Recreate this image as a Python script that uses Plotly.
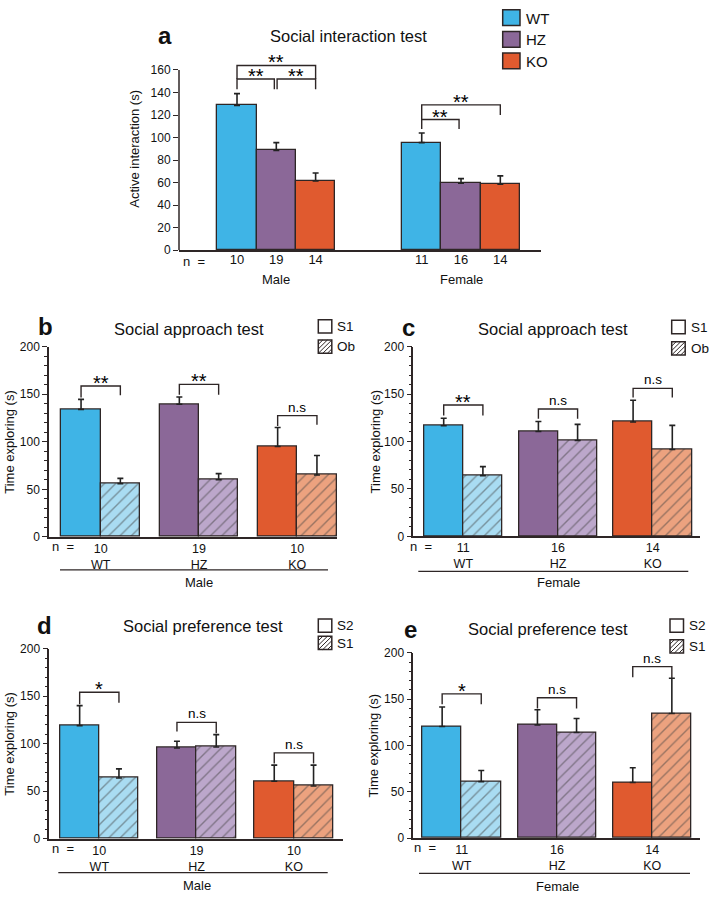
import plotly.graph_objects as go

W, H = 709, 898

# ---------------- data ----------------
genotypes = ["WT", "HZ", "KO"]

# (a) Social interaction test: active interaction (s), mean and SEM
a_male_mean = [128.5, 88.5, 61.5]
a_male_sem = [10.5, 7.0, 7.0]
a_female_mean = [95.5, 59.5, 58.5]
a_female_sem = [8.5, 4.0, 7.5]
a_male_n = [10, 19, 14]
a_female_n = [11, 16, 14]
a_yticks = [0, 20, 40, 60, 80, 100, 120, 140, 160]

# (b) Social approach test, male: S1 vs Ob
b_s1_mean = [134.0, 139.5, 95.0]
b_s1_sem = [10.5, 7.5, 20.0]
b_ob_mean = [56.0, 60.0, 65.0]
b_ob_sem = [5.5, 6.5, 20.5]
b_n = [10, 19, 10]

# (c) Social approach test, female: S1 vs Ob
c_s1_mean = [116.5, 110.5, 120.5]
c_s1_sem = [8.0, 10.5, 23.0]
c_ob_mean = [64.0, 101.0, 91.5]
c_ob_sem = [9.5, 17.0, 25.5]
c_n = [11, 16, 14]

# (d) Social preference test, male: S2 vs S1
d_s2_mean = [119.0, 95.5, 60.5]
d_s2_sem = [21.0, 7.0, 17.0]
d_s1_mean = [64.0, 96.5, 55.5]
d_s1_sem = [9.5, 13.0, 22.0]
d_n = [10, 19, 10]

# (e) Social preference test, female: S2 vs S1
e_s2_mean = [120.5, 122.0, 60.0]
e_s2_sem = [21.0, 16.5, 16.0]
e_s1_mean = [61.0, 114.0, 134.5]
e_s1_sem = [12.0, 15.0, 38.0]
e_n = [11, 16, 14]

# significance brackets: (label, sex index, left pos, right pos, top, left end, right end)
a_sig = [
    ("**", 0, 0.0, 2.0, 164.0, 152.0, 152.0),
    ("**", 0, 0.0, 0.95, 152.0, 143.0, 143.0),
    ("**", 0, 1.02, 2.0, 152.0, 143.0, 143.0),
    ("**", 1, 0.0, 2.0, 129.0, 116.0, 120.0),
    ("**", 1, 0.0, 0.95, 116.0, 107.5, 107.5),
]
# (label, genotype index, top, left end, right end)
b_sig = [("**", 0, 158.6, 146.5, 149.0), ("**", 1, 160.3, 149.3, 149.3), ("n.s", 2, 127.5, 116.5, 118.0)]
c_sig = [("**", 0, 138.5, 127.4, 127.4), ("n.s", 1, 134.3, 124.0, 124.0), ("n.s", 2, 156.0, 146.4, 146.4)]
d_sig = [("*", 0, 154.0, 141.4, 143.0), ("n.s", 1, 122.4, 112.7, 111.0), ("n.s", 2, 90.3, 79.3, 79.3)]
e_sig = [("*", 0, 155.7, 144.4, 144.4), ("n.s", 1, 151.4, 139.8, 139.8), ("n.s", 2, 185.0, 173.7, 172.7)]

# ---------------- style ----------------
SOLID = ["#3fb4e6", "#8b6898", "#e05a2f"]
LIGHT = ["#a9dcf2", "#bca7cb", "#eca27f"]
EDGE = "#2e2626"
TXT = "#111111"
SANS = "Liberation Sans, Arial, sans-serif"
STARF = "Liberation Sans, Arial, sans-serif"


def fx(p):
    return p / W


def fy(p):
    return 1 - p / H


fig = go.Figure()
annotations = []
shapes = []


def add_text(x, y, s, size, xref="paper", yref="paper", bold=False, xanchor="center",
             yanchor="middle", angle=0, family=SANS, yshift=0, color=TXT):
    annotations.append(dict(
        x=x, y=y, xref=xref, yref=yref, text=f"<b>{s}</b>" if bold else s,
        showarrow=False, xanchor=xanchor, yanchor=yanchor, textangle=angle,
        font=dict(size=size, family=family, color=color), yshift=yshift))


def err(vals, sem):
    return dict(type="data", array=sem, arrayminus=[0] * len(vals), symmetric=False,
                color="#222222", thickness=1.6, width=3)


def bracket(xa, ya, label, xl, xr, top, yl, yr):
    shapes.append(dict(type="path", xref=xa, yref=ya,
                       path=f"M {xl},{yl} L {xl},{top} L {xr},{top} L {xr},{yr}",
                       line=dict(color=EDGE, width=1.4)))
    star = "*" in label
    add_text((xl + xr) / 2, top, label, 20 if star else 13.5, xref=xa, yref=ya,
             yanchor="bottom", family=STARF, yshift=-10 if star else -1,
             color="#000000")


def legend_box(x0, y0, x1, y1, fill, hatch=False):
    shapes.append(dict(type="rect", xref="paper", yref="paper", x0=fx(x0), x1=fx(x1),
                       y0=fy(y1), y1=fy(y0), fillcolor=fill, line=dict(color=EDGE, width=1.5)))
    if hatch:
        w = x1 - x0
        h = y1 - y0
        segs = []
        for f in (0.33, 0.67, 1.0):
            segs.append(f"M {fx(x0)},{fy(y0 + h * f)} L {fx(x0 + w * f)},{fy(y0)}")
        for f in (0.33, 0.67):
            segs.append(f"M {fx(x0 + w * f)},{fy(y1)} L {fx(x1)},{fy(y0 + h * f)}")
        shapes.append(dict(type="path", xref="paper", yref="paper", path=" ".join(segs),
                           line=dict(color=EDGE, width=1)))


axis_common = dict(showgrid=False, zeroline=False, fixedrange=True, linecolor=EDGE,
                   tickcolor=EDGE, tickfont=dict(size=12, family=SANS, color=TXT))
layout_axes = {}

# ---------------- panel a ----------------
a_pos_male = [0.0, 1.0, 2.0]
a_pos_female = [4.7, 5.7, 6.7]
for i, g in enumerate(genotypes):
    fig.add_trace(go.Bar(
        x=[a_pos_male[i], a_pos_female[i]], y=[a_male_mean[i], a_female_mean[i]],
        width=1.0, name=g, xaxis="x", yaxis="y",
        marker=dict(color=SOLID[i], line=dict(color=EDGE, width=1.3)),
        error_y=err([0, 0], [a_male_sem[i], a_female_sem[i]]), showlegend=False))

layout_axes["xaxis"] = dict(axis_common, domain=[fx(179), fx(541)], range=[-1.476, 7.735],
                            anchor="y", showline=True, linewidth=1.5, ticks="",
                            tickvals=a_pos_male + a_pos_female, ticklabelstandoff=-3,
                            ticktext=[str(v) for v in a_male_n + a_female_n],
                            tickfont=dict(size=13, family=SANS, color=TXT))
layout_axes["yaxis"] = dict(axis_common, domain=[fy(247), fy(46.84)], range=[0, 175],
                            anchor="x", showline=False, ticks="outside", ticklen=5,
                            tickwidth=1.2, tickvals=a_yticks)
shapes.append(dict(type="line", xref="x domain", yref="y", x0=0, x1=0, y0=0,
                   y1=a_yticks[-1], line=dict(color=EDGE, width=1.5)))
for lab, sx, xl, xr, top, yl, yr in a_sig:
    off = (a_pos_male if sx == 0 else a_pos_female)[0]
    bracket("x", "y", lab, off + xl, off + xr, top, yl, yr)

add_text(fx(165), fy(29), "a", 24, bold=True)
add_text(fx(348), fy(29), "Social interaction test", 16.5)
add_text(fx(135), fy(144), "Active interaction (s)", 13, angle=-90)
add_text(fx(181), fy(259), "n  =", 13, xanchor="left")
add_text(a_pos_male[1], fy(277), "Male", 13, xref="x")
add_text(a_pos_female[1], fy(277), "Female", 13, xref="x")
for i, g in enumerate(genotypes):
    y0 = [2.7, 25.0, 46.7][i]
    legend_box(502.7, y0, 520, y0 + 16, SOLID[i])
    add_text(fx(523.5), fy(y0 + 8.5), g, 15, xanchor="left")

# ---------------- panels b-e ----------------
panels = [
    dict(key="b", ax=2, xl=49, xr=337, yb=538.3, yt=345, c0=100.7, w=39.3, sp=98.3,
         m1=b_s1_mean, s1=b_s1_sem, m2=b_ob_mean, s2=b_ob_sem, n=b_n, sig=b_sig,
         title="Social approach test", sex="Male", leg=("S1", "Ob"),
         tx=188.8, ty=326.7, lx=45, ly=325, ytx=10, nx=50, ul=(60, 328, 571.7), sexy=585,
         legx=318.3, legy=(317.7, 338.3)),
    dict(key="c", ax=3, xl=413.3, xr=700, yb=537.7, yt=345, c0=463.3, w=39.2, sp=94.7,
         m1=c_s1_mean, s1=c_s1_sem, m2=c_ob_mean, s2=c_ob_sem, n=c_n, sig=c_sig,
         title="Social approach test", sex="Female", leg=("S1", "Ob"),
         tx=552.7, ty=326.7, lx=408.3, ly=326, ytx=375, nx=408.3, ul=(418.3, 688.3, 573.3),
         sexy=585, legx=671.7, legy=(318.3, 340)),
    dict(key="d", ax=4, xl=49.3, xr=343, yb=845, yt=651.7, c0=99.3, w=39.3, sp=97.3,
         m1=d_s2_mean, s1=d_s2_sem, m2=d_s1_mean, s2=d_s1_sem, n=d_n, sig=d_sig,
         title="Social preference test", sex="Male", leg=("S2", "S1"),
         tx=202.8, ty=629.3, lx=44.5, ly=628, ytx=10, nx=50, ul=(58.3, 327.7, 879.3),
         sexy=892.3, legx=318.3, legy=(621.7, 639.3)),
    dict(key="e", ax=5, xl=413.3, xr=700, yb=844.3, yt=656, c0=461.7, w=39.1, sp=95.3,
         m1=e_s2_mean, s1=e_s2_sem, m2=e_s1_mean, s2=e_s1_sem, n=e_n, sig=e_sig,
         title="Social preference test", sex="Female", leg=("S2", "S1"),
         tx=548.3, ty=632.3, lx=410, ly=632, ytx=373, nx=411.7, ul=(419, 690, 880),
         sexy=893.3, legx=670, legy=(621.7, 642.7)),
]

for p in panels:
    k = p["ax"]
    xa, ya = f"x{k}", f"y{k}"
    unit = p["sp"] / p["w"]
    centers = [j * unit for j in range(3)]
    fig.add_trace(go.Bar(
        x=[c - 0.5 for c in centers], y=p["m1"], width=1.0, name=p["leg"][0],
        xaxis=xa, yaxis=ya, showlegend=False,
        marker=dict(color=SOLID, line=dict(color=EDGE, width=1.3)),
        error_y=err(p["m1"], p["s1"])))
    fig.add_trace(go.Bar(
        x=[c + 0.5 for c in centers], y=p["m2"], width=1.0, name=p["leg"][1],
        xaxis=xa, yaxis=ya, showlegend=False,
        marker=dict(color=LIGHT, line=dict(color=EDGE, width=1.3),
                    pattern=dict(shape="/", fgcolor="#2e2626", size=8, solidity=0.17,
                                 fillmode="overlay")),
        error_y=err(p["m2"], p["s2"])))
    xr0 = (p["xl"] - p["c0"]) / p["w"]
    xr1 = (p["xr"] - p["c0"]) / p["w"]
    layout_axes[f"xaxis{k}"] = dict(axis_common, domain=[fx(p["xl"]), fx(p["xr"])],
                                    range=[xr0, xr1], anchor=ya, showline=True, linewidth=1.5,
                                    ticks="", tickvals=centers, ticklabelstandoff=-1,
                                    ticktext=[f"{n}<br>{g}" for n, g in zip(p["n"], genotypes)],
                                    tickfont=dict(size=12.5, family=SANS, color=TXT))
    layout_axes[f"yaxis{k}"] = dict(axis_common, domain=[fy(p["yb"]), fy(p["yt"])],
                                    range=[0, 200], anchor=xa, showline=True, linewidth=1.5,
                                    ticks="outside", ticklen=5, tickwidth=1.2, tick0=0, dtick=50,
                                    minor=dict(ticks="outside", ticklen=3, dtick=10,
                                               tickcolor=EDGE, tickwidth=1))
    for lab, gi, top, yl, yr in p["sig"]:
        bracket(xa, ya, lab, centers[gi] - 0.5, centers[gi] + 0.5, top, yl, yr)
    add_text(fx(p["lx"]), fy(p["ly"]), p["key"], 24, bold=True)
    add_text(fx(p["tx"]), fy(p["ty"]), p["title"], 16.5)
    add_text(fx(p["ytx"]), (fy(p["yb"]) + fy(p["yt"])) / 2, "Time exploring (s)", 13, angle=-90)
    add_text(fx(p["nx"]), fy(p["yb"] + 10), "n  =", 13, xanchor="left")
    u0, u1, uy = p["ul"]
    shapes.append(dict(type="line", xref="paper", yref="paper", x0=fx(u0), x1=fx(u1),
                       y0=fy(uy), y1=fy(uy), line=dict(color=EDGE, width=1.2)))
    add_text(centers[1], fy(p["sexy"]), p["sex"], 13, xref=xa)
    for j, lab in enumerate(p["leg"]):
        y0 = p["legy"][j]
        legend_box(p["legx"], y0, p["legx"] + 13.5, y0 + 13.5, "white", hatch=(j == 1))
        add_text(fx(p["legx"] + 17), fy(y0 + 7), lab, 13.5, xanchor="left")

fig.update_layout(
    width=W, height=H, margin=dict(l=0, r=0, t=0, b=0),
    paper_bgcolor="white", plot_bgcolor="white", barmode="overlay", bargap=0,
    showlegend=False, annotations=annotations, shapes=shapes,
    font=dict(family=SANS, color=TXT), **layout_axes)

fig.write_html("out.html", config={"displayModeBar": False},
               post_script="document.body.style.margin='0px';")
